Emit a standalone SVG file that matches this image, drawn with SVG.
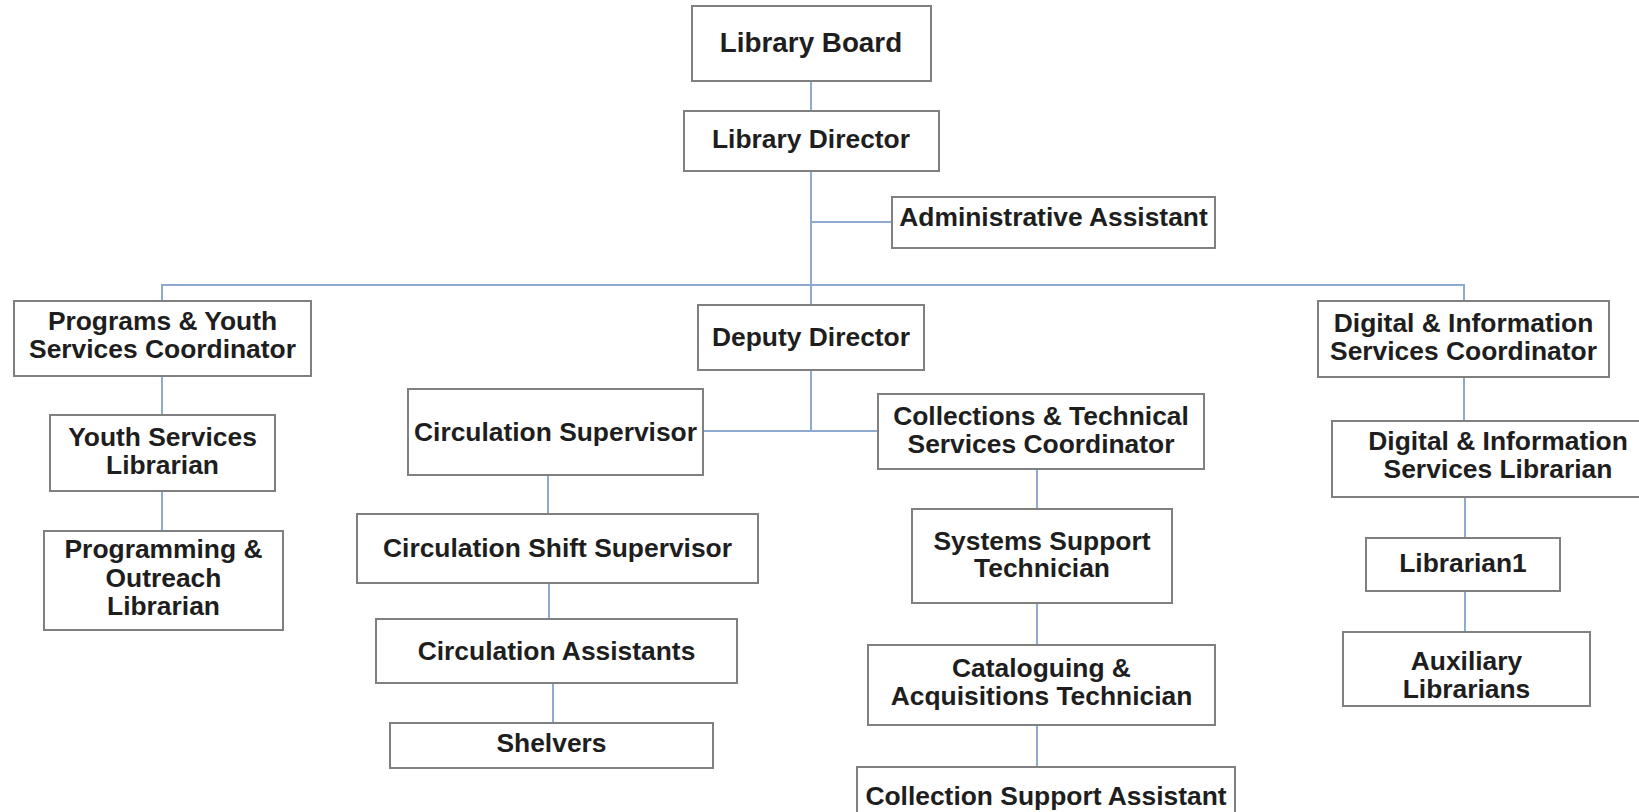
<svg xmlns="http://www.w3.org/2000/svg" width="1639" height="812" viewBox="0 0 1639 812">
  <style>
    .box { fill: #ffffff; stroke: #808080; stroke-width: 2; }
    .wire { fill: none; stroke: #8eaacf; stroke-width: 2; }
    text { font-family: "Liberation Sans", Arial, sans-serif; font-weight: bold; fill: #1e1e1e; text-anchor: middle; font-size: 26.4px; }
    .lg { font-size: 27.8px; }
  </style>
  <rect width="1639" height="812" fill="#ffffff"/>

  <!-- reporting lines -->
  <g id="connectors">
    <path class="wire" d="M811,81 V111"/>
    <path class="wire" d="M811,171 V305"/>
    <path class="wire" d="M811,222 H892"/>
    <path class="wire" d="M162,303 V285 H1464 V301"/>
    <path class="wire" d="M162,376 V415"/>
    <path class="wire" d="M162,491 V531"/>
    <path class="wire" d="M811,370 V431"/>
    <path class="wire" d="M703,431 H878"/>
    <path class="wire" d="M548,475 V514"/>
    <path class="wire" d="M549,583 V619"/>
    <path class="wire" d="M553,683 V723"/>
    <path class="wire" d="M1037,469 V509"/>
    <path class="wire" d="M1037,603 V645"/>
    <path class="wire" d="M1037,725 V767"/>
    <path class="wire" d="M1464,377 V421"/>
    <path class="wire" d="M1465,497 V538"/>
    <path class="wire" d="M1465,591 V632"/>
  </g>

  <g id="library-board">
    <rect class="box" x="692" y="6" width="239" height="75"/>
    <text class="lg" x="811" y="52">Library Board</text>
  </g>
  <g id="library-director">
    <rect class="box" x="684" y="111" width="255" height="60"/>
    <text x="811" y="148">Library Director</text>
  </g>
  <g id="administrative-assistant">
    <rect class="box" x="892" y="197" width="323" height="51"/>
    <text x="1053.5" y="226">Administrative Assistant</text>
  </g>

  <g id="programs-youth-coordinator">
    <rect class="box" x="14" y="301" width="297" height="75"/>
    <text x="162.5" y="330">Programs &amp; Youth</text>
    <text x="162.5" y="358">Services Coordinator</text>
  </g>
  <g id="youth-services-librarian">
    <rect class="box" x="50" y="415" width="225" height="76"/>
    <text x="162.5" y="446">Youth Services</text>
    <text x="162.5" y="474">Librarian</text>
  </g>
  <g id="programming-outreach-librarian">
    <rect class="box" x="44" y="531" width="239" height="99"/>
    <text x="163.5" y="558">Programming &amp;</text>
    <text x="163.5" y="587">Outreach</text>
    <text x="163.5" y="615">Librarian</text>
  </g>

  <g id="deputy-director">
    <rect class="box" x="698" y="305" width="226" height="65"/>
    <text x="811" y="346">Deputy Director</text>
  </g>

  <g id="circulation-supervisor">
    <rect class="box" x="408" y="389" width="295" height="86"/>
    <text x="555.5" y="441">Circulation Supervisor</text>
  </g>
  <g id="circulation-shift-supervisor">
    <rect class="box" x="357" y="514" width="401" height="69"/>
    <text x="557.5" y="557">Circulation Shift Supervisor</text>
  </g>
  <g id="circulation-assistants">
    <rect class="box" x="376" y="619" width="361" height="64"/>
    <text x="556.5" y="660">Circulation Assistants</text>
  </g>
  <g id="shelvers">
    <rect class="box" x="390" y="723" width="323" height="45"/>
    <text x="551.5" y="752">Shelvers</text>
  </g>

  <g id="collections-technical-coordinator">
    <rect class="box" x="878" y="394" width="326" height="75"/>
    <text x="1041" y="425">Collections &amp; Technical</text>
    <text x="1041" y="453">Services Coordinator</text>
  </g>
  <g id="systems-support-technician">
    <rect class="box" x="912" y="509" width="260" height="94"/>
    <text x="1042" y="550">Systems Support</text>
    <text x="1042" y="577">Technician</text>
  </g>
  <g id="cataloguing-acquisitions-technician">
    <rect class="box" x="868" y="645" width="347" height="80"/>
    <text x="1041.5" y="677">Cataloguing &amp;</text>
    <text x="1041.5" y="705">Acquisitions Technician</text>
  </g>
  <g id="collection-support-assistant">
    <rect class="box" x="857" y="767" width="378" height="60"/>
    <text x="1046" y="805">Collection Support Assistant</text>
  </g>

  <g id="digital-information-coordinator">
    <rect class="box" x="1318" y="301" width="291" height="76"/>
    <text x="1463.5" y="332">Digital &amp; Information</text>
    <text x="1463.5" y="360">Services Coordinator</text>
  </g>
  <g id="digital-information-librarian">
    <rect class="box" x="1332" y="421" width="332" height="76"/>
    <text x="1498" y="450">Digital &amp; Information</text>
    <text x="1498" y="478">Services Librarian</text>
  </g>
  <g id="librarian1">
    <rect class="box" x="1366" y="538" width="194" height="53"/>
    <text x="1463" y="572">Librarian1</text>
  </g>
  <g id="auxiliary-librarians">
    <rect class="box" x="1343" y="632" width="247" height="74"/>
    <text x="1466.5" y="670">Auxiliary</text>
    <text x="1466.5" y="698">Librarians</text>
  </g>
</svg>
